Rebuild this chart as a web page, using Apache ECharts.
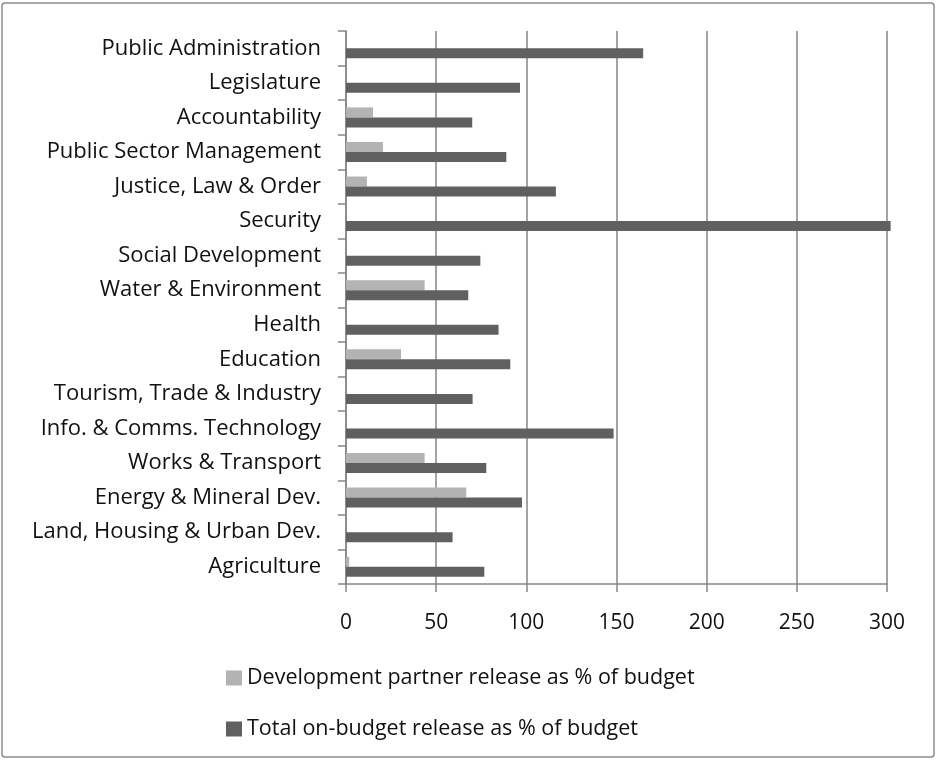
<!DOCTYPE html>
<html>
<head>
<meta charset="utf-8">
<script src="https://cdn.jsdelivr.net/npm/echarts@6/dist/echarts.min.js"></script>
<style>
  html, body { margin: 0; padding: 0; background: #fff; }
  #bar-chart-container { width: 936px; height: 760px; }
</style>
</head>
<body>
<div id="bar-chart-container"></div>
<script>
// categories, listed bottom to top
const sectors = [
  "Agriculture",
  "Land, Housing & Urban Dev.",
  "Energy & Mineral Dev.",
  "Works & Transport",
  "Info. & Comms. Technology",
  "Tourism, Trade & Industry",
  "Education",
  "Health",
  "Water & Environment",
  "Social Development",
  "Security",
  "Justice, Law & Order",
  "Public Sector Management",
  "Accountability",
  "Legislature",
  "Public Administration",
];
const devPartnerRelease = [1.8, 0, 66.7, 43.6, 0, 0, 30.5, 0, 43.6, 0, 0, 11.6, 20.5, 15, 0, 0];
const totalOnBudgetRelease = [76.7, 59.1, 97.6, 77.8, 148.4, 70.2, 91.1, 84.6, 67.8, 74.5, 302, 116.4, 88.9, 70, 96.5, 164.8];
const xTicks = [0, 50, 100, 150, 200, 250, 300];

const seriesNames = [
  "Development partner release as % of budget",
  "Total on-budget release as % of budget",
];

const chartDom = document.getElementById("bar-chart-container");
const myChart = echarts.init(chartDom);
const fontFamily = "Open Sans";
const gray = "#868686";

const option = {
  animation: false,
  textStyle: { fontFamily: fontFamily },
  graphic: [
    {
      type: "rect",
      shape: { x: 2, y: 3, width: 932, height: 754, r: 3 },
      style: { fill: "none", stroke: "#8c8c8c", lineWidth: 1.5 },
      silent: true,
    },
  ],
  grid: {
    left: 346,
    right: 49,
    top: 31,
    bottom: 176,
    containLabel: false,
  },
  legend: {
    orient: "vertical",
    left: 221,
    top: 662,
    itemWidth: 16,
    itemHeight: 15,
    itemGap: 29,
    icon: "rect",
    data: seriesNames,
    textStyle: { fontSize: 21.5, color: "#111", fontFamily: fontFamily },
  },
  xAxis: {
    type: "value",
    min: xTicks[0],
    max: xTicks[xTicks.length - 1],
    interval: 50,
    axisLine: { show: true, lineStyle: { color: gray, width: 1.5 } },
    axisTick: { show: true, length: 8, lineStyle: { color: gray, width: 1.5 } },
    axisLabel: { fontSize: 21, color: "#111", margin: 29, fontFamily: fontFamily },
    splitLine: { show: true, lineStyle: { color: gray, width: 1.5 } },
  },
  yAxis: {
    type: "category",
    data: sectors,
    axisLine: { show: true, lineStyle: { color: gray, width: 1.5 } },
    axisTick: { show: true, length: 8, lineStyle: { color: gray, width: 1.5 } },
    axisLabel: { fontSize: 22, color: "#111", margin: 25, fontFamily: fontFamily },
    splitLine: { show: false },
  },
  series: [
    {
      name: seriesNames[0],
      type: "bar",
      data: devPartnerRelease,
      barWidth: 10,
      barGap: "0%",
      clip: false,
      itemStyle: { color: "#b3b3b3" },
    },
    {
      name: seriesNames[1],
      type: "bar",
      data: totalOnBudgetRelease,
      barWidth: 10,
      barGap: "0%",
      clip: false,
      itemStyle: { color: "#606060" },
    },
  ],
};
myChart.setOption(option);
</script>
</body>
</html>
